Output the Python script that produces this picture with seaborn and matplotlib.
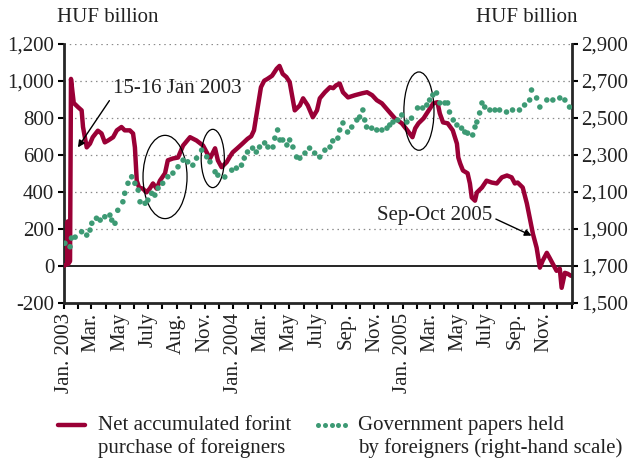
import numpy as np
import pandas as pd
import matplotlib
matplotlib.use('Agg')
import matplotlib.pyplot as plt
import matplotlib.dates as mdates
from matplotlib.patches import Ellipse
from matplotlib.lines import Line2D
import seaborn as sns

# net accumulated forint purchase of foreigners (left scale, HUF billion)
red_dates = ['2003-01-01', '2003-01-08', '2003-01-09', '2003-01-10', '2003-01-14', '2003-01-16',
             '2003-01-22', '2003-01-31', '2003-02-08', '2003-02-11', '2003-02-19', '2003-02-26',
             '2003-03-04', '2003-03-15', '2003-03-23', '2003-03-30', '2003-04-06', '2003-04-17',
             '2003-04-25', '2003-05-05', '2003-05-12', '2003-05-23', '2003-05-30', '2003-06-03',
             '2003-06-07', '2003-06-12', '2003-06-20', '2003-06-28', '2003-07-05', '2003-07-12',
             '2003-07-20', '2003-07-27', '2003-08-07', '2003-08-13', '2003-08-24', '2003-09-04',
             '2003-09-15', '2003-09-30', '2003-10-14', '2003-10-28', '2003-11-12', '2003-11-23',
             '2003-11-29', '2003-12-07', '2003-12-18', '2003-12-25', '2003-12-31',
             '2004-01-10', '2004-01-21', '2004-02-01', '2004-02-09', '2004-02-15', '2004-02-22',
             '2004-03-01', '2004-03-08', '2004-03-15', '2004-03-25', '2004-04-04', '2004-04-10',
             '2004-04-17', '2004-04-25', '2004-05-02', '2004-05-13', '2004-05-24', '2004-05-31',
             '2004-06-10', '2004-06-21', '2004-06-30', '2004-07-06', '2004-07-17', '2004-07-28',
             '2004-08-04', '2004-08-10', '2004-08-18', '2004-08-25', '2004-09-05', '2004-09-20',
             '2004-10-05', '2004-10-16', '2004-10-27', '2004-11-06', '2004-11-17', '2004-11-30',
             '2004-12-15', '2004-12-30',
             '2005-01-11', '2005-01-22', '2005-01-28', '2005-02-04', '2005-02-15', '2005-02-26',
             '2005-03-08', '2005-03-17', '2005-03-22', '2005-03-29', '2005-04-08', '2005-04-19',
             '2005-04-28', '2005-05-01', '2005-05-05', '2005-05-11', '2005-05-21', '2005-05-26',
             '2005-05-30', '2005-06-06', '2005-06-10', '2005-06-21', '2005-07-01', '2005-07-12',
             '2005-07-23', '2005-08-03', '2005-08-14', '2005-08-24', '2005-08-31', '2005-09-06',
             '2005-09-17', '2005-09-26', '2005-10-02', '2005-10-09', '2005-10-17', '2005-10-24',
             '2005-10-30', '2005-11-08', '2005-11-14', '2005-11-21', '2005-11-29', '2005-12-06',
             '2005-12-10', '2005-12-17', '2005-12-23', '2005-12-30']
red_values = [0, 10, 240, 10, 25, 1010,
              880, 858, 840, 750, 640, 660,
              695, 730, 715, 667, 677, 695,
              732, 750, 732, 732, 715, 640,
              460, 423, 417, 397, 417, 445,
              417, 460, 500, 570, 580, 585,
              650, 695, 677, 650, 580, 635,
              570, 533, 560, 590, 613,
              635, 660, 686, 700, 732, 840,
              965, 1000, 1010, 1027, 1065, 1080,
              1037, 1020, 993, 840, 867, 905,
              867, 803, 840, 905, 938, 965,
              960, 975, 985, 938, 910, 922,
              932, 938, 922, 895, 878, 840,
              797, 770,
              732, 695, 743, 770, 797, 840,
              878, 884, 824, 775, 770, 732,
              660, 585, 553, 515, 500, 445,
              369, 352, 396, 423, 460, 450,
              445, 478, 488, 478, 445, 450,
              423, 336, 260, 173, 98, -10,
              27, 70, 43, 10, -27, -16,
              -119, -38, -43, -54]

# government papers held by foreigners (right scale, HUF billion)
green_dates = ['2003-01-03', '2003-01-14', '2003-01-17', '2003-01-25', '2003-02-08', '2003-02-19',
               '2003-02-26', '2003-03-02', '2003-03-12', '2003-03-20', '2003-03-30', '2003-04-10',
               '2003-04-14', '2003-04-21', '2003-04-27', '2003-05-08', '2003-05-12', '2003-05-19',
               '2003-05-27', '2003-06-03', '2003-06-10', '2003-06-14', '2003-06-25', '2003-07-01',
               '2003-07-09', '2003-07-16', '2003-07-23', '2003-08-02', '2003-08-13', '2003-08-24',
               '2003-09-04', '2003-09-15', '2003-09-25', '2003-10-06', '2003-10-14', '2003-10-25',
               '2003-11-05', '2003-11-12', '2003-11-23', '2003-11-29', '2003-12-14', '2003-12-29',
               '2004-01-08', '2004-01-19', '2004-01-25', '2004-02-01', '2004-02-12', '2004-02-20',
               '2004-02-27', '2004-03-09', '2004-03-16', '2004-03-27', '2004-03-31', '2004-04-06',
               '2004-04-11', '2004-04-17', '2004-04-26', '2004-05-02', '2004-05-09', '2004-05-17',
               '2004-05-24', '2004-06-04', '2004-06-14', '2004-06-25', '2004-07-06', '2004-07-17',
               '2004-07-28', '2004-08-03', '2004-08-14', '2004-08-18', '2004-08-25', '2004-09-04',
               '2004-09-13', '2004-09-24', '2004-09-30', '2004-10-07', '2004-10-11', '2004-10-15',
               '2004-10-26', '2004-11-06', '2004-11-17', '2004-11-28', '2004-12-04', '2004-12-11',
               '2004-12-21', '2004-12-30',
               '2005-01-10', '2005-01-20', '2005-02-02', '2005-02-13', '2005-02-22', '2005-02-28',
               '2005-03-07', '2005-03-15', '2005-03-22', '2005-04-02', '2005-04-08', '2005-04-12',
               '2005-04-20', '2005-04-28', '2005-05-08', '2005-05-15', '2005-05-21', '2005-06-01',
               '2005-06-06', '2005-06-10', '2005-06-16', '2005-06-21', '2005-06-27', '2005-07-08',
               '2005-07-19', '2005-07-29', '2005-08-13', '2005-08-26', '2005-09-10', '2005-09-21',
               '2005-10-02', '2005-10-06', '2005-10-17', '2005-10-24', '2005-11-08', '2005-11-21',
               '2005-12-06', '2005-12-17', '2005-12-27']
green_values = [1822, 1803, 1850, 1855, 1884, 1866,
                1893, 1930, 1957, 1947, 1965, 1974,
                1947, 1930, 2000, 2046, 2092, 2146,
                2181, 2146, 2109, 2046, 2038, 2055,
                2092, 2082, 2120, 2146, 2181, 2201,
                2235, 2271, 2262, 2244, 2282, 2325,
                2289, 2262, 2208, 2190, 2180, 2217,
                2228, 2244, 2282, 2315, 2336, 2315,
                2342, 2364, 2342, 2342, 2390, 2434,
                2380, 2380, 2353, 2380, 2342, 2288,
                2282, 2309, 2336, 2309, 2288, 2325,
                2342, 2375, 2390, 2434, 2472, 2423,
                2450, 2488, 2504, 2542, 2488, 2450,
                2444, 2434, 2434, 2444, 2461, 2477,
                2488, 2515,
                2477, 2498, 2553, 2553, 2569, 2596,
                2623, 2634, 2580, 2580, 2580, 2531,
                2488, 2461, 2444, 2423, 2417, 2407,
                2450, 2477, 2526, 2580, 2558, 2542,
                2542, 2542, 2531, 2542, 2542, 2569,
                2596, 2650, 2607, 2558, 2596, 2596,
                2607, 2596, 2558]

tick_labels = ['Jan. 2003', 'Mar.', 'May', 'July', 'Aug.', 'Nov.',
               'Jan. 2004', 'Mar.', 'May', 'July', 'Sep.', 'Nov.',
               'Jan. 2005', 'Mar.', 'May', 'July', 'Sep.', 'Nov.']
left_ticks = list(range(-200, 1201, 200))
right_ticks = list(range(1500, 2901, 200))

red_df = pd.DataFrame({'date': pd.to_datetime(red_dates), 'value': red_values})
green_df = pd.DataFrame({'date': pd.to_datetime(green_dates), 'value': green_values})

RED = '#9a0036'
GREEN = '#3d9a74'

sns.set_style('ticks')
plt.rcParams['font.family'] = ['Liberation Serif', 'DejaVu Serif']
plt.rcParams['axes.unicode_minus'] = False

fig = plt.figure(figsize=(6.32, 4.63), dpi=100)
ax = fig.add_axes([0.1013, 0.346, 0.8035, 0.5595])
ax2 = ax.twinx()

sns.lineplot(data=red_df, x='date', y='value', ax=ax, color=RED, lw=3.2,
             estimator=None, legend=False, zorder=3)
sns.scatterplot(data=green_df, x='date', y='value', ax=ax2, color=GREEN, s=16,
                edgecolor='none', legend=False, zorder=3)

months = pd.date_range('2003-01-01', '2006-01-01', freq='MS')
ax.set_xlim(months[0], months[-1])
ax.set_xticks(months)
labels = [''] * len(months)
for i, lab in enumerate(tick_labels):
    labels[2 * i] = lab
ax.set_xticklabels(labels, rotation=90, fontsize=15)

ax.set_ylim(-200, 1200)
ax.set_yticks(left_ticks)
ax.set_yticklabels([f'{v:,}' for v in left_ticks], fontsize=15)
ax2.set_ylim(1500, 2900)
ax2.set_yticks(right_ticks)
ax2.set_yticklabels([f'{v:,}' for v in right_ticks], fontsize=15)

ax.set_xlabel('')
ax.set_ylabel('')
ax2.set_ylabel('')

for t in left_ticks[2:]:
    ax.axhline(t, color='#8c8c8c', lw=0.9, ls=(0, (1.2, 3)), zorder=1)
ax.axhline(0, color='black', lw=1.2, zorder=2)

for a in (ax, ax2):
    a.spines['top'].set_visible(False)
    a.tick_params(axis='both', direction='out', length=4, width=1.5, colors='black',
                  labelcolor='#222222', pad=3)
ax.spines['right'].set_visible(False)
ax2.spines['left'].set_visible(False)
ax2.spines['bottom'].set_visible(False)
ax.spines['left'].set_linewidth(2)
ax.spines['bottom'].set_linewidth(2)
ax2.spines['right'].set_linewidth(2)

# ellipses around the episodes
d = mdates.date2num
ax.add_patch(Ellipse((d(pd.Timestamp('2003-08-07')), 480), 95, 450,
                     fill=False, ec='black', lw=0.9, zorder=4))
ax.add_patch(Ellipse((d(pd.Timestamp('2003-11-18')), 580), 50, 315,
                     fill=False, ec='black', lw=0.9, zorder=4))
ax.add_patch(Ellipse((d(pd.Timestamp('2005-02-05')), 836), 65, 423,
                     fill=False, ec='black', lw=0.9, zorder=4))

arrow = dict(arrowstyle='-|>', color='black', lw=1, mutation_scale=10,
             shrinkA=0, shrinkB=0)
ax.annotate('15-16 Jan 2003', xy=(d(pd.Timestamp('2003-01-31')), 640),
            xytext=(d(pd.Timestamp('2003-04-16')), 960), fontsize=15,
            color='#222222', ha='left', va='center',
            arrowprops=dict(arrow, relpos=(0, 0.1)), zorder=6)
ax.annotate('Sep-Oct 2005', xy=(d(pd.Timestamp('2005-10-06')), 163),
            xytext=(d(pd.Timestamp('2005-07-14')), 271), fontsize=15,
            color='#222222', ha='right', va='center',
            arrowprops=dict(arrow, relpos=(1, 0.4)), zorder=6)

fig.text(57 / 632, 1 - 18 / 463, 'HUF billion', fontsize=15, color='#222222',
         ha='left', va='center')
fig.text(577 / 632, 1 - 18 / 463, 'HUF billion', fontsize=15, color='#222222',
         ha='right', va='center')

handles = [Line2D([], [], color=RED, lw=3.2),
           Line2D([], [], color=GREEN, ls='none', marker='o', markersize=3.6,
                  markeredgewidth=0)]
leg = fig.legend(handles, ['Net accumulated forint\npurchase of foreigners',
                           'Government papers held\nby foreigners (right-hand scale)'],
                 loc='upper left', bbox_to_anchor=(52 / 632, 1 - 416 / 463), ncol=2,
                 frameon=False, fontsize=15, handlelength=1.9, handletextpad=0.3,
                 columnspacing=1.0, numpoints=5, labelspacing=0.2, borderaxespad=0,
                 borderpad=0, labelcolor='#222222')
# put the handles next to the first line of each label
for line in leg.get_lines():
    line.set_ydata(np.asarray(line.get_ydata(), dtype=float) + 8.5)

fig.savefig('out.png', dpi=100)
plt.close()
